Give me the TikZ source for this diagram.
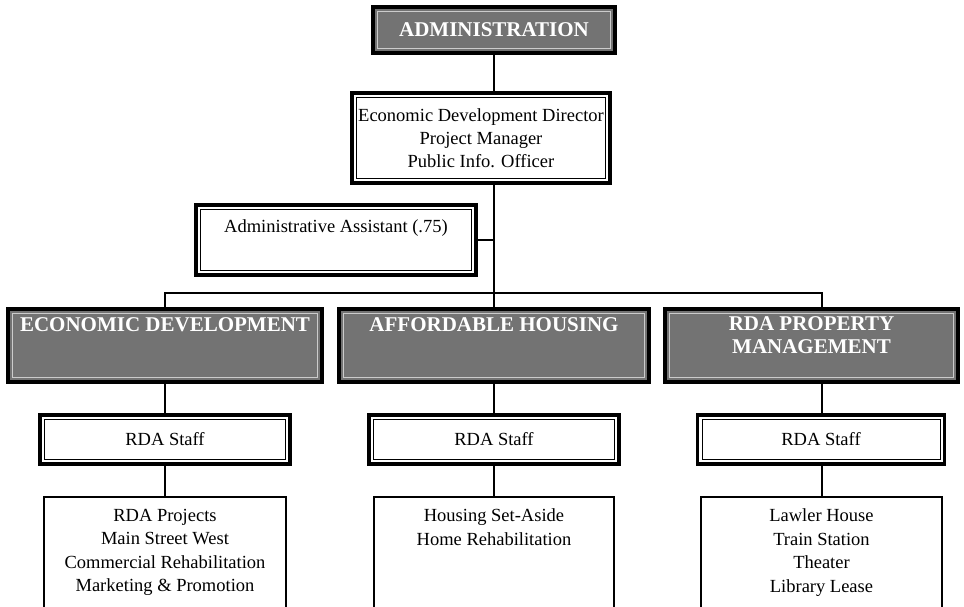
\documentclass[tikz,border=0pt]{standalone}
\usepackage{fontspec}
\setmainfont{Liberation Serif}
\begin{document}
\begin{tikzpicture}[x=1pt,y=-1pt,
  base/.style={font=\fontsize{18.5}{23.5}\selectfont, align=center, inner sep=0pt},
  dbl/.style={draw, line width=3.2pt, fill=white,
    path picture={\draw[line width=0.9pt]
      ([shift={(4.5pt,-4.5pt)}]path picture bounding box.north west) rectangle
      ([shift={(-4.5pt,4.5pt)}]path picture bounding box.south east);}},
  dark/.style={draw, line width=3.4pt, fill=black!55, inner sep=0pt,
    path picture={\draw[white!80!black, line width=1pt]
      ([shift={(4.5pt,-4.5pt)}]path picture bounding box.north west) rectangle
      ([shift={(-4.5pt,4.5pt)}]path picture bounding box.south east);}},
  head/.style={text=white, font=\bfseries\fontsize{21}{23}\selectfont, align=center, inner sep=0pt},
  plain/.style={draw, line width=2.4pt, fill=white},
  conn/.style={line width=1.3pt}
]
\useasboundingbox (0,0) rectangle (964,607);
\clip (0,0) rectangle (964,607);

% top
\node[dark, head, minimum width=242, minimum height=46] (admin) at (494,30) {ADMINISTRATION};
\node[dbl, base, font=\fontsize{18.5}{23}\selectfont, minimum width=258, minimum height=90] (dir) at (481,138)
  {Economic Development Director\\Project Manager\\Public Info. Officer};
\node[dbl, minimum width=280, minimum height=70] (asst) at (336,240) {};
\node[base, anchor=north] (asstt) at ([yshift=-16pt]asst.north) {Administrative Assistant (.75)};

\coordinate (bar) at (494,293);
\coordinate (pj) at (822,293);

% departments
\node[dark, minimum width=314, minimum height=73] (econ) at (165,345.5) {};
\node[head, anchor=north] (econt) at ([yshift=-10pt]econ.north) {ECONOMIC DEVELOPMENT};
\node[dark, minimum width=310, minimum height=73] (house) at (494,345.5) {};
\node[head, anchor=north] (houset) at ([yshift=-10pt]house.north) {AFFORDABLE HOUSING};
\node[dark, minimum width=293, minimum height=73] (prop) at (811.5,345.5) {};
\node[head, anchor=north] (propt) at ([yshift=-9pt]prop.north) {RDA PROPERTY\\MANAGEMENT};

% staff
\node[dbl, base, minimum width=250, minimum height=49] (sL) at (165,439.5) {RDA Staff};
\node[dbl, base, minimum width=250, minimum height=49] (sM) at (494,439.5) {RDA Staff};
\node[dbl, base, minimum width=247, minimum height=49] (sR) at (821,439.5) {RDA Staff};

% bottom
\node[plain, minimum width=242, minimum height=150] (bL) at (165,572) {};
\node[base, anchor=north] (bLt) at ([yshift=-13pt]bL.north)
  {RDA Projects\\Main Street West\\Commercial Rehabilitation\\Marketing \& Promotion};
\node[plain, minimum width=240, minimum height=150] (bM) at (494,572) {};
\node[base, anchor=north] (bMt) at ([yshift=-13pt]bM.north)
  {Housing Set-Aside\\Home Rehabilitation};
\node[plain, minimum width=241, minimum height=150] (bR) at (821.5,572) {};
\node[base, anchor=north] (bRt) at ([yshift=-13pt]bR.north)
  {Lawler House\\Train Station\\Theater\\Library Lease};

% connectors
\draw[conn] (admin.south) -- (admin.south |- dir.north);
\draw[conn] (admin.south |- dir.south) -- (bar);
\draw[conn] (asst.east) -- (asst.east -| bar);
\draw[conn] (econ.north) |- (pj) -- (pj |- prop.north);
\draw[conn] (bar) -- (bar |- house.north);
\draw[conn] (econ.south) -- (econ.south |- sL.north);
\draw[conn] (house.south) -- (house.south |- sM.north);
\draw[conn] (pj |- prop.south) -- (pj |- sR.north);
\draw[conn] (sL.south) -- (sL.south |- bL.north);
\draw[conn] (sM.south) -- (sM.south |- bM.north);
\draw[conn] (pj |- sR.south) -- (pj |- bR.north);
\end{tikzpicture}
\end{document}
